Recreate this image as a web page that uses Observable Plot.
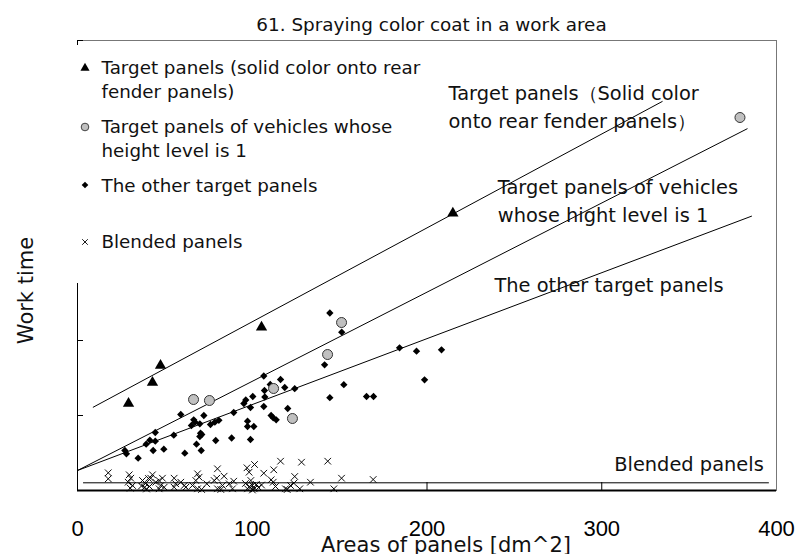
<!DOCTYPE html>
<html><head><meta charset="utf-8">
<script src="https://cdn.jsdelivr.net/npm/d3@7"></script>
<script src="https://cdn.jsdelivr.net/npm/@observablehq/plot@0.6"></script>
<style>body{margin:0;background:#fff;}</style>
</head><body><div id="chart"></div>
<script>
const title = "61. Spraying color coat in a work area";
const xLabel = "Areas of panels [dm^2]";
const yLabel = "Work time";
const xTicks = [0, 100, 200, 300, 400];
const xInnerTicks = [100, 200, 300];
const yTicks = [0, 7.5, 15, 22.5, 30, 37.5, 45];

// Target panels (solid color onto rear fender panels)
const rearFenderX = [29.2, 42.9, 47.5, 105.3, 214.8];
const rearFenderY = [8.7, 10.8, 12.5, 16.33, 27.73];

// Target panels of vehicles whose height level is 1
const height1X = [66.4, 75.5, 112.2, 123.0, 143.1, 151.1, 379.1];
const height1Y = [9.1, 9.0, 10.2, 7.2, 13.6, 16.8, 37.3];

// The other target panels
const otherX = [144.4,151.2,141.4,144.4,152.4,106.6,116.2,110.3,118.6,107.0,107.2,124.3,120.3,110.8,112.0,113.7,106.6,100.3,99.0,96.3,95.2,89.4,97.3,97.3,100.9,99.0,88.2,79.1,80.9,78.6,76.1,72.3,66.5,67.3,65.2,70.0,70.4,71.1,70.0,68.1,70.8,59.1,55.1,61.4,49.4,44.5,44.5,41.4,39.3,43.3,34.7,27.1,28.0,184.3,194.0,208.3,198.6,165.4,169.4];
const otherY = [17.75,15.83,12.57,9.28,10.58,11.45,11.1,10.6,10.3,10.0,9.35,10.18,8.2,7.5,7.27,7.07,8.4,9.4,8.3,9.05,8.7,7.8,6.93,6.4,6.4,5.1,5.25,5.0,7.02,6.83,6.6,7.5,7.07,6.83,6.5,6.67,5.73,5.6,5.4,4.63,4.0,7.6,5.53,3.73,4.13,5.8,4.93,5.03,4.63,4.0,3.23,4.0,3.67,14.27,13.93,14.07,11.07,9.4,9.4];

// Blended panels
const blendedX = [17.6,17.6,29.6,30.5,29.0,31.5,30.2,37.2,38.9,40.6,38.3,41.2,39.5,36.6,41.9,42.9,44.8,46.7,48.6,47.7,49.6,46.7,55.3,56.2,55.3,59.1,61.1,62.0,65.8,68.7,69.6,67.7,68.7,71.0,74.0,78.2,79.7,80.1,82.0,80.1,83.9,83.0,86.8,88.7,97.0,98.2,99.2,100.1,97.3,101.1,101.3,96.1,98.4,102.4,103.6,105.3,100.1,106.6,112.3,116.2,110.8,112.0,113.3,119.0,120.0,121.9,123.8,124.3,127.2,128.2,133.3,143.2,146.7,151.1,169.2,89.4];
const blendedY = [1.77,1.17,1.57,1.23,0.83,0.5,0.23,1.0,0.7,1.2,0.3,0.4,0.15,0.45,1.23,1.57,0.83,1.0,1.23,0.5,0.33,0.17,1.23,0.67,0.33,0.83,0.5,0.33,0.5,1.67,1.33,1.0,0.17,0.1,0.67,1.0,1.23,0.17,0.1,2.17,1.43,0.5,0.67,0.17,2.27,1.83,1.0,0.5,0.17,0.17,2.6,0.7,0.4,0.6,0.3,0.55,0.05,1.73,2.07,2.93,1.07,0.83,0.4,0.17,0.1,0.5,0.73,1.4,0.17,2.83,0.83,2.93,0.17,1.23,1.1,0.93];

// fitted lines (end points)
const fitRearX = [9.0, 334.6],  fitRearY = [8.33, 38.9];
const fitH1X = [0, 383.2],      fitH1Y = [2.0, 36.17];
const fitOtherX = [0, 385.7],   fitOtherY = [2.0, 27.43];
const fitBlendX = [3.4, 395.4], fitBlendY = [0.77, 0.77];

// annotations
const annLabels = ["Target panels（Solid color\nonto rear fender panels）", "Target panels of vehicles\nwhose hight level is 1", "The other target panels", "Blended panels"];
const annX = [212.3, 240.5, 238.6, 392.7];
const annY = [36.23, 26.83, 19.83, 1.95];

// legend
const legendLabels = [
  ["Target panels (solid color onto rear", "fender panels)"],
  ["Target panels of vehicles whose", "height level is 1"],
  ["The other target panels"],
  ["Blended panels"]
];

const zip = (xs, ys) => xs.map((x, i) => ({x, y: ys[i]}));
const rear = zip(rearFenderX, rearFenderY);
const h1 = zip(height1X, height1Y);
const other = zip(otherX, otherY);
const blended = zip(blendedX, blendedY);
const fits = [
  ...zip(fitRearX, fitRearY).map(d => ({...d, g: "rear"})),
  ...zip(fitH1X, fitH1Y).map(d => ({...d, g: "h1"})),
  ...zip(fitOtherX, fitOtherY).map(d => ({...d, g: "other"})),
  ...zip(fitBlendX, fitBlendY).map(d => ({...d, g: "blend"}))
];
const ann = annLabels.map((t, i) => ({t, x: annX[i], y: annY[i]}));

const chart = Plot.plot({
  width: 803, height: 554,
  marginLeft: 77, marginRight: 27, marginTop: 40, marginBottom: 64,
  style: {fontFamily: "'DejaVu Sans'", background: "white", color: "black"},
  x: {domain: [0, 400]},
  y: {domain: [0, 45]},
  marks: [
    Plot.frame({stroke: "#777"}),
    Plot.axisY({ticks: yTicks, tickSize: -6, tickFormat: () => "", label: null}),
    Plot.axisX({ticks: xTicks, tickSize: 0, tickPadding: 30, fontSize: 22, fontFamily: "'Liberation Sans'", label: null}),
    Plot.axisX({ticks: xInnerTicks, tickSize: -8, tickFormat: () => "", label: null}),
    Plot.ruleX([0], {stroke: "black", strokeWidth: 1}),
    Plot.line(fits, {x: "x", y: "y", z: "g", stroke: "black", strokeWidth: 1}),
    Plot.ruleY([0], {stroke: "black", strokeWidth: 2}),
    Plot.dot(blended, {x: "x", y: "y", symbol: "times", r: 3.1, stroke: "black", strokeWidth: 0.95}),
    Plot.dot(other, {x: "x", y: "y", symbol: "diamond2", r: 3.3, fill: "black", stroke: "none"}),
    Plot.dot(h1, {x: "x", y: "y", symbol: "circle", r: 5, fill: "#c0c0c0", stroke: "#333", strokeWidth: 1}),
    Plot.dot(rear, {x: "x", y: "y", symbol: "triangle", r: 4.2, fill: "black", stroke: "none"}),
    Plot.text(ann.slice(0, 3), {x: "x", y: "y", text: "t", textAnchor: "start", lineAnchor: "bottom", lineHeight: 1.44, fontSize: 19.4, fill: "#111"}),
    Plot.text(ann.slice(3), {x: "x", y: "y", text: "t", textAnchor: "end", lineAnchor: "bottom", fontSize: 19.4, fill: "#111"}),
    Plot.text([title], {frameAnchor: "top", dy: -10, dx: 4.5, lineAnchor: "bottom", fontSize: 18.4, fill: "#111"}),
    Plot.text([xLabel], {frameAnchor: "bottom", dy: 61, dx: 19, lineAnchor: "bottom", fontSize: 21, fill: "#111"}),
    Plot.text([yLabel], {frameAnchor: "left", rotate: -90, dx: -45, dy: 25, textAnchor: "middle", lineAnchor: "bottom", fontSize: 21, fill: "#111"})
  ]
});
document.getElementById("chart").appendChild(chart);

// legend: white box hides the left axis line but sits beneath the fitted lines
const svg = d3.select(chart);
svg.insert("rect", "g[aria-label=line]")
  .attr("x", 70).attr("y", 45).attr("width", 368).attr("height", 238).attr("fill", "white");
const lg = svg.append("g").attr("font-family", "'DejaVu Sans'").attr("font-size", 18.3)
  .attr("fill", "#111").attr("text-anchor", "start");
const legendSym = [
  {type: d3.symbolTriangle, size: 36, fill: "black", stroke: "none"},
  {type: d3.symbolCircle, size: 46, fill: "#c0c0c0", stroke: "#333"},
  {type: d3.symbolDiamond2, size: 28, fill: "black", stroke: "none"},
  {type: d3.symbolTimes, size: 22, fill: "none", stroke: "black"}
];
const legendRowY = [68, 127, 185, 242];
const legendBase = [74, 133, 191.7, 248.3];
legendLabels.forEach((lines, i) => {
  const s = legendSym[i];
  lg.append("path").attr("d", d3.symbol(s.type, s.size)()).attr("transform", `translate(85,${legendRowY[i]})`)
    .attr("fill", s.fill).attr("stroke", s.stroke).attr("stroke-width", 0.9);
  lines.forEach((t, j) => {
    lg.append("text").attr("x", 101.5).attr("y", legendBase[i] + j * 23.7).text(t);
  });
});
</script>
</body></html>
